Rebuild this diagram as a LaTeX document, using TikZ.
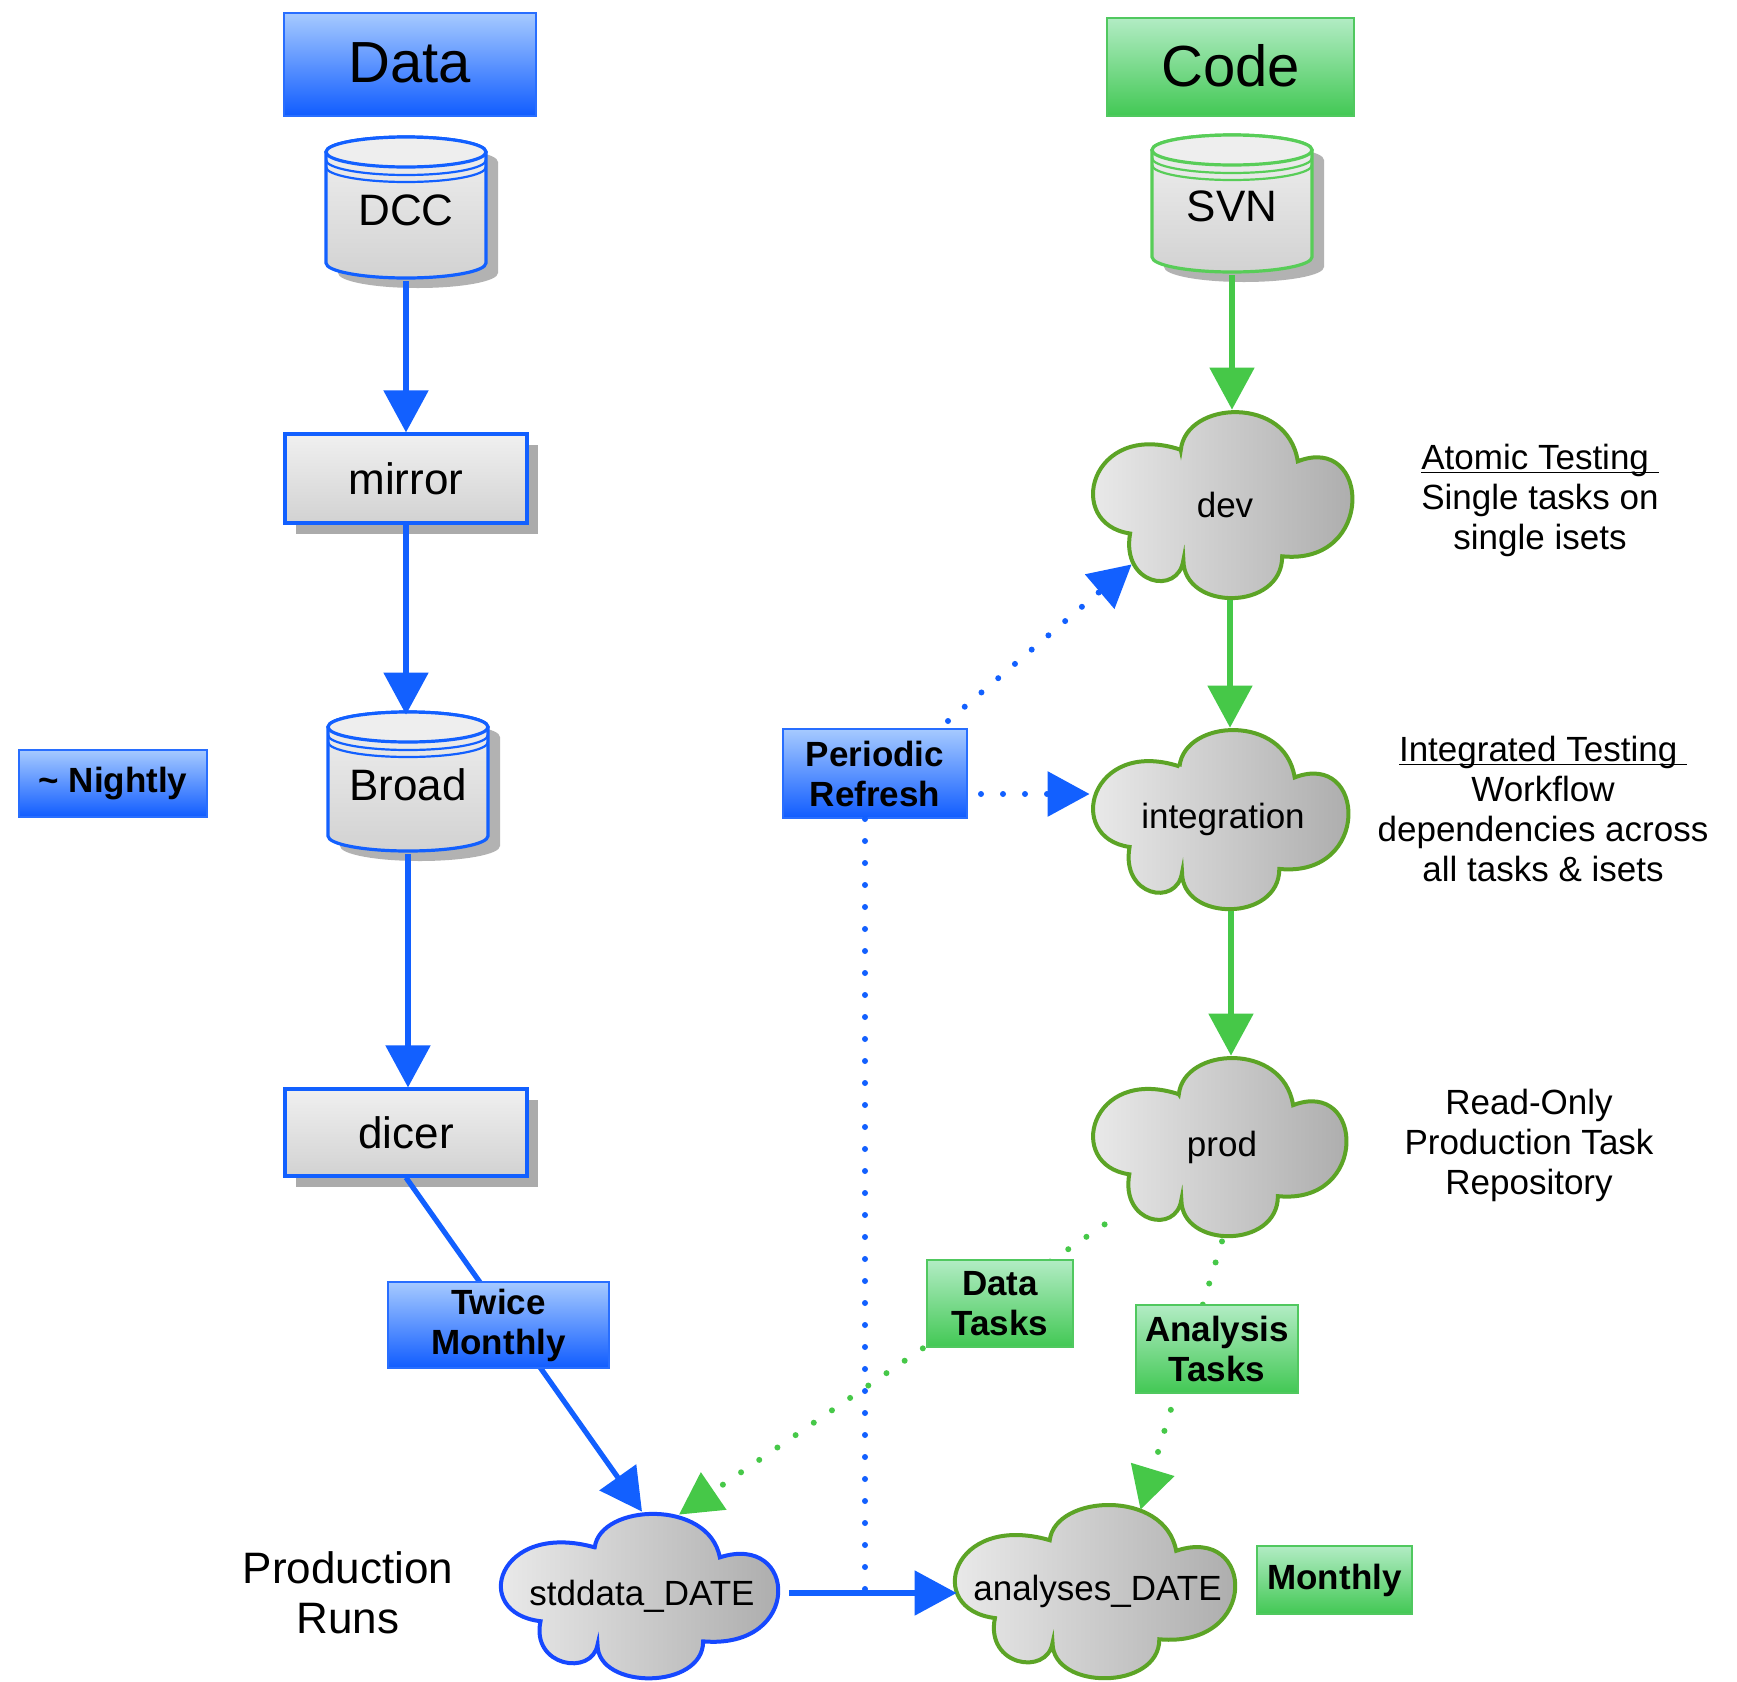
\documentclass[tikz,border=0pt]{standalone}
\usepackage{fontspec}
\setmainfont{Liberation Sans}
\usetikzlibrary{arrows.meta,calc,shadows}

\definecolor{blueline}{RGB}{18,96,255}
\definecolor{blueedge}{RGB}{40,110,255}
\definecolor{bluetop}{RGB}{166,202,255}
\definecolor{bluebot}{RGB}{16,92,255}
\definecolor{greenline}{RGB}{70,200,72}
\definecolor{greenedge}{RGB}{80,200,95}
\definecolor{greentop}{RGB}{178,236,196}
\definecolor{greenbot}{RGB}{66,200,84}
\definecolor{cloudgreen}{RGB}{92,164,38}
\definecolor{cloudblue}{RGB}{22,72,255}
\definecolor{cylgreen}{RGB}{88,205,88}
\definecolor{boxtop}{RGB}{240,240,240}
\definecolor{boxbot}{RGB}{210,210,210}
\definecolor{cyltop}{RGB}{238,238,238}

\tikzset{
  every node/.style={inner sep=0pt, align=center},
  bluehdr/.style={rectangle, draw=blueedge, line width=1pt, top color=bluetop, bottom color=bluebot},
  greenhdr/.style={rectangle, draw=greenedge, line width=1pt, top color=greentop, bottom color=greenbot},
  hdrfont/.style={font=\fontsize{29}{34}\selectfont},
  tagfont/.style={font=\bfseries\fontsize{17.5}{20}\selectfont},
  bluetag/.style={bluehdr, tagfont},
  greentag/.style={greenhdr, tagfont},
  procbox/.style={rectangle, draw=blueline, line width=1.6pt, top color=boxtop, bottom color=boxbot,
    drop shadow={shadow xshift=5.5pt, shadow yshift=-5.5pt, fill=black!33, opacity=1},
    font=\fontsize{22}{26}\selectfont},
  cloudfont/.style={font=\fontsize{17.5}{20}\selectfont},
  notefont/.style={font=\fontsize{17.5}{20}\selectfont},
  bigtip/.style={-{Triangle[length=21pt,width=22pt]}},
  flowb/.style={draw=blueline, line width=2.6pt, bigtip},
  flowg/.style={draw=greenline, line width=2.6pt, bigtip},
  dotb/.style={draw=blueline, line width=3pt, line cap=round, dash pattern=on 0pt off 11pt},
  dotg/.style={draw=greenline, line width=3pt, line cap=round, dash pattern=on 0pt off 11pt},
}

% cylinder: name, cx, top, bottom, colour, text
\newcommand{\dbcyl}[6]{%
  \fill[black!40,opacity=0.75] (#2-68,#3+25) -- (#2-68,#4-5)
     arc[start angle=180,end angle=360,x radius=40pt,y radius=7.5pt]
     -- (#2+92,#3+25) arc[start angle=0,end angle=180,x radius=40pt,y radius=7.5pt] -- cycle;
  \path[draw=#5,line width=1.6pt,top color=boxtop,bottom color=boxbot] (#2-80,#3+15) -- (#2-80,#4-15)
     arc[start angle=180,end angle=360,x radius=40pt,y radius=7.5pt]
     -- (#2+80,#3+15) arc[start angle=0,end angle=180,x radius=40pt,y radius=7.5pt] -- cycle;
  \path[draw=#5,line width=1.6pt,fill=cyltop] (#2,#3+15) ellipse[x radius=40pt,y radius=7.5pt];
  \draw[#5,line width=1.1pt] (#2-80,#3+23) arc[start angle=180,end angle=360,x radius=40pt,y radius=7.5pt];
  \draw[#5,line width=1.1pt] (#2-80,#3+30) arc[start angle=180,end angle=360,x radius=40pt,y radius=7.5pt];
  \node[minimum width=80pt,minimum height={(#4-#3)*0.5pt},font=\fontsize{22}{26}\selectfont] (#1) at (#2,{(#3+#4)/2+3}) {#6};
}

% cloud: name, x0, y0, w, h, colour, text, width pt, height pt
\newcommand{\cloudnode}[9]{%
  \begin{scope}[shift={(#2,#3)},xscale=#4,yscale=#5]
    \path[draw=#6,line width=2pt,left color=black!6,right color=black!34]
      (0.33,0.21) .. controls (0.35,-0.05) and (0.74,-0.08) .. (0.78,0.27)
      .. controls (1.06,0.12) and (1.08,0.82) .. (0.72,0.77)
      .. controls (0.72,1.06) and (0.34,1.06) .. (0.34,0.79)
      .. controls (0.32,0.98) and (0.10,0.92) .. (0.135,0.65)
      .. controls (-0.12,0.60) and (-0.02,0.05) .. cycle;
  \end{scope}
  \node[cloudfont,minimum width=#8,minimum height=#9] (#1) at ({#2+#4/2},{#3+#5/2}) {#7};
}

\begin{document}
\begin{tikzpicture}[x=0.5pt,y=-0.5pt]
\useasboundingbox (0,0) rectangle (1737,1682);
\fill[white] (0,0) rectangle (1737,1682);

% headers
\node[bluehdr,hdrfont,minimum width=126pt,minimum height=51.5pt] (data) at (410,64.5) {\raisebox{1.5pt}{Data}};
\node[greenhdr,hdrfont,minimum width=123.5pt,minimum height=49pt] (code) at (1230.5,67) {\raisebox{1.5pt}{Code}};

% data column
\dbcyl{DCC}{406}{137}{278}{blueline}{DCC}
\node[procbox,minimum width=121pt,minimum height=44.5pt] (mirror) at (406,478.5) {mirror};
\dbcyl{Broad}{408}{712}{851}{blueline}{Broad}
\node[procbox,minimum width=121pt,minimum height=43.5pt] (dicer) at (406,1132.5) {dicer};

% code column
\dbcyl{SVN}{1232}{135}{272}{cylgreen}{SVN}
\cloudnode{dev}{1095}{410}{260}{190}{cloudgreen}{dev}{130pt}{95pt}
\cloudnode{integration}{1095}{728}{256}{183}{cloudgreen}{integration}{128pt}{91.5pt}
\cloudnode{prod}{1095}{1056}{254}{182}{cloudgreen}{prod}{127pt}{91pt}

% bottom clouds
\cloudnode{stddata}{503}{1512}{278}{168}{cloudblue}{stddata\_DATE}{139pt}{84pt}
\cloudnode{analyses}{957}{1503}{281}{177}{cloudgreen}{analyses\_DATE}{140.5pt}{88.5pt}

% tags not on lines
\node[bluetag,minimum width=94pt,minimum height=33.5pt] (nightly) at (113,783.5) {\textasciitilde\ Nightly};
\node[bluetag,minimum width=92pt,minimum height=44.5pt] (periodic) at (875,773.5) {Periodic\\Refresh};
\node[greentag,minimum width=77.5pt,minimum height=34pt] (monthly) at (1334.5,1580) {Monthly};

% solid connectors
\draw[flowb] (DCC.south) -- (mirror.north);
\draw[flowb] (mirror.south) -- (mirror.south |- Broad.north);
\draw[flowb] (Broad.south) -- (Broad.south |- dicer.north);
\draw[flowb] (dicer.south) -- (stddata.north);
\draw[flowg] (SVN.south) -- (SVN.south |- dev.north);
\draw[flowg] ($(dev.south)+(5,0)$) -- ($(dev.south |- integration.north)+(5,0)$);
\draw[flowg] ($(integration.south)+(8,0)$) -- ($(integration.south |- prod.north)+(8,0)$);

% periodic refresh
\draw[dotb,bigtip] ($(periodic.north east)+(-20,-7)$) -- ($(dev.south west)+(37,-36)$);
\coordinate (prs) at ($(periodic.east)+(13,20.5)$);
\draw[dotb,bigtip] (prs) -- ($(prs -| integration.west)+(-5,0)$);
\coordinate (sa) at ($(stddata.east)+(8,-3)$);
\coordinate (prd) at ($(periodic.south)+(-10,0)$);
\draw[dotb] (prd) -- (prd |- sa);
\draw[flowb] (sa) -- (sa -| analyses.west);

% tasks
\draw[dotg,bigtip] ($(prod.south west)+(10,-14)$) -- ($(stddata.north)+(37,3)$);
\draw[dotg,bigtip] ($(prod.south)+(0,3)$) -- ($(analyses.north)+(43,7)$);

% tags on lines
\node[bluetag,minimum width=110.5pt,minimum height=43pt] (twice) at (498.5,1325) {Twice\\Monthly};
\node[greentag,minimum width=73pt,minimum height=43.5pt] (datatasks) at (1000,1303.5) {Data\\Tasks};
\node[greentag,minimum width=81pt,minimum height=44pt] (analysistasks) at (1217,1349) {Analysis\\Tasks};

% notes
\node[notefont] (atomic) at (1540,513) {\underline{\smash{Atomic Testing\ }}\\Single tasks on\\single isets};
\node[notefont] (integrated) at (1543,822) {\underline{\smash{Integrated Testing\ }}\\Workflow\\dependencies across\\all tasks \& isets};
\node[notefont] (readonly) at (1529,1145) {Read-Only\\Production Task\\Repository};
\node[font=\fontsize{22}{25}\selectfont] (prodruns) at (348,1592.5) {Production\\Runs};
\end{tikzpicture}
\end{document}
